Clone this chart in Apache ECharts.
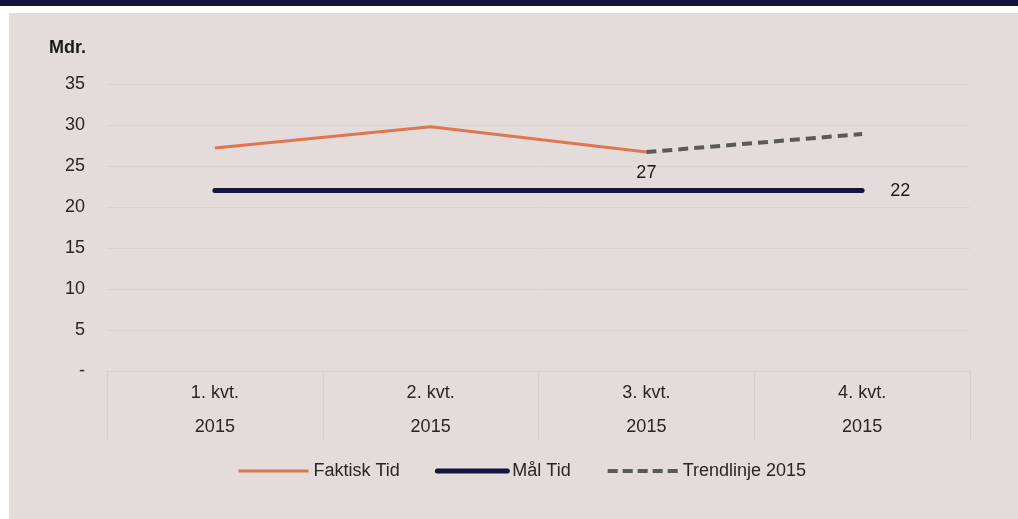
<!DOCTYPE html>
<html>
<head>
<meta charset="utf-8">
<script src="https://cdn.jsdelivr.net/npm/echarts@6/dist/echarts.min.js"></script>
<style>
  html, body { margin: 0; padding: 0; background: #ffffff; }
  #chart { width: 1018px; height: 519px; }
</style>
</head>
<body>
<div id="chart"></div>
<script>
  // data
  var quarters = ['1. kvt.', '2. kvt.', '3. kvt.', '4. kvt.'];
  var years = ['2015', '2015', '2015', '2015'];
  var faktiskTid = [27.2, 29.8, 26.7, null];
  var maalTid = [22, 22, 22, 22];
  var trendlinje = [null, null, 26.7, 28.9];

  var font = '"Liberation Sans", Arial, sans-serif';
  var chart = echarts.init(document.getElementById('chart'));

  var categories = quarters.map(function (q, i) { return q + '\n' + years[i]; });

  function endLabel(pos, dist) {
    return {
      show: true, position: pos, distance: dist,
      fontSize: 18, color: '#1a1a1a', fontFamily: font,
      formatter: function (p) { return Math.round(p.value); }
    };
  }

  chart.setOption({
    animation: false,
    textStyle: { fontFamily: font },
    graphic: [
      { type: 'rect', z: -10, shape: { x: 0, y: 0, width: 1018, height: 6 }, style: { fill: '#14143b' } },
      { type: 'rect', z: -10, shape: { x: 9, y: 13, width: 1009, height: 506 }, style: { fill: '#e3dcda' } },
      { type: 'text', left: 49, top: 39, style: { text: 'Mdr.', font: 'bold 18px ' + font, fill: '#1a1a1a' } }
    ],
    grid: { left: 107, right: 48, top: 84, bottom: 148 },
    legend: {
      left: 232,
      top: 457,
      itemWidth: 70,
      itemHeight: 20,
      itemGap: 35,
      itemStyle: { opacity: 0 },
      textStyle: { fontSize: 18, color: '#262626', fontFamily: font },
      data: [
        { name: 'Faktisk Tid', lineStyle: { width: 3 } },
        { name: 'Mål Tid', lineStyle: { width: 5 } },
        { name: 'Trendlinje 2015', lineStyle: { width: 4, type: [10, 5] } }
      ]
    },
    xAxis: {
      type: 'category',
      data: categories,
      boundaryGap: true,
      axisLine: { show: true, lineStyle: { color: '#d6cfcd', width: 1 } },
      axisTick: { show: true, length: 69, lineStyle: { color: '#d6cfcd' } },
      axisLabel: { fontSize: 18, color: '#262626', lineHeight: 34, margin: 5, fontFamily: font },
      splitLine: { show: false }
    },
    yAxis: {
      type: 'value',
      min: 0,
      max: 35,
      interval: 5,
      axisLine: { show: false },
      axisTick: { show: false },
      axisLabel: {
        fontSize: 18, color: '#262626', margin: 22, fontFamily: font,
        formatter: function (v) { return v === 0 ? '-' : v; }
      },
      splitLine: { lineStyle: { color: '#dad3d1', width: 1 } }
    },
    series: [
      {
        name: 'Faktisk Tid',
        type: 'line',
        symbol: 'circle',
        symbolSize: 0,
        color: '#e0764f',
        lineStyle: { width: 3, color: '#e0764f' },
        z: 3,
        data: faktiskTid.map(function (v, i) {
          return i === 2 ? { value: v, label: endLabel('bottom', 12) } : v;
        })
      },
      {
        name: 'Mål Tid',
        type: 'line',
        symbol: 'circle',
        symbolSize: 0,
        color: '#15153d',
        lineStyle: { width: 5, color: '#15153d', cap: 'round' },
        z: 2,
        data: maalTid.map(function (v, i) {
          return i === maalTid.length - 1 ? { value: v, label: endLabel('right', 28) } : v;
        })
      },
      {
        name: 'Trendlinje 2015',
        type: 'line',
        symbol: 'circle',
        symbolSize: 0,
        color: '#5a5a5a',
        lineStyle: { width: 4, color: '#5a5a5a', type: [10, 6] },
        z: 4,
        data: trendlinje
      }
    ]
  });
</script>
</body>
</html>
